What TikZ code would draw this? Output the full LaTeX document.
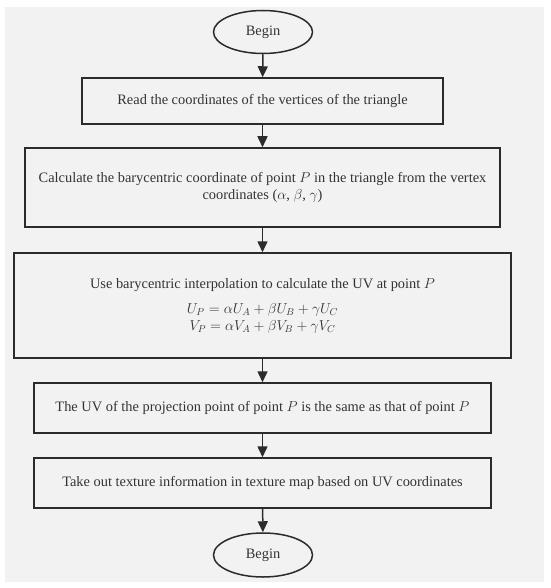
\documentclass[tikz,border=0pt]{standalone}
\usepackage{fontspec}
\setmainfont{Liberation Serif}
\usetikzlibrary{shapes.geometric,arrows.meta}
\definecolor{bggray}{HTML}{F2F2F2}
\definecolor{linegray}{HTML}{2B2B2B}
\definecolor{textgray}{HTML}{333333}
\tikzset{
  stepbox/.style={draw=linegray,line width=1.5pt,rectangle,inner sep=0pt,
    text=textgray,align=center,font=\fontsize{14.4}{16.5}\selectfont},
  terminal/.style={draw=linegray,line width=1.5pt,ellipse,inner sep=0pt,
    minimum width=99pt,minimum height=43pt,text=textgray,
    font=\fontsize{14.4}{16.5}\selectfont},
  flow/.style={draw=linegray,line width=1.5pt,-{Triangle[width=10pt,length=11pt]}}
}
\begin{document}
\begin{tikzpicture}[x=1pt,y=1pt]
\useasboundingbox (0,0) rectangle (550,-588);
\fill[bggray] (5,-7) rectangle (544,-582);
% terminals and steps
\node[terminal] (begin) at (263,-32) {Begin};
\node[stepbox,minimum width=361pt,minimum height=46pt] (read) at (262.5,-101)
  {Read the coordinates of the vertices of the triangle};
\node[stepbox,minimum width=475pt,minimum height=79pt] (bary) at (262.5,-187.5)
  {Calculate the barycentric coordinate of point $P$ in the triangle from the vertex\\
   coordinates ($\alpha$, $\beta$, $\gamma$)};
\node[stepbox,minimum width=497pt,minimum height=105pt] (interp) at (262.5,-305.5)
  {Use barycentric interpolation to calculate the UV at point $P$\\[9pt]
   $U_P=\alpha U_A+\beta U_B+\gamma U_C$\\
   $V_P=\alpha V_A+\beta V_B+\gamma V_C$};
\node[stepbox,minimum width=457pt,minimum height=50pt] (same) at (262.5,-408)
  {The UV of the projection point of point $P$ is the same as that of point $P$};
\node[stepbox,minimum width=457pt,minimum height=50pt] (take) at (262.5,-483)
  {Take out texture information in texture map based on UV coordinates};
\node[terminal,minimum height=44pt] (end) at (263,-555) {Begin};
% arrows
\draw[flow] (begin) -- (read);
\draw[flow] (read) -- (bary);
\draw[flow] (bary) -- (interp);
\draw[flow] (interp) -- (same);
\draw[flow] (same) -- (take);
\draw[flow] (take) -- (end);
\end{tikzpicture}
\end{document}
